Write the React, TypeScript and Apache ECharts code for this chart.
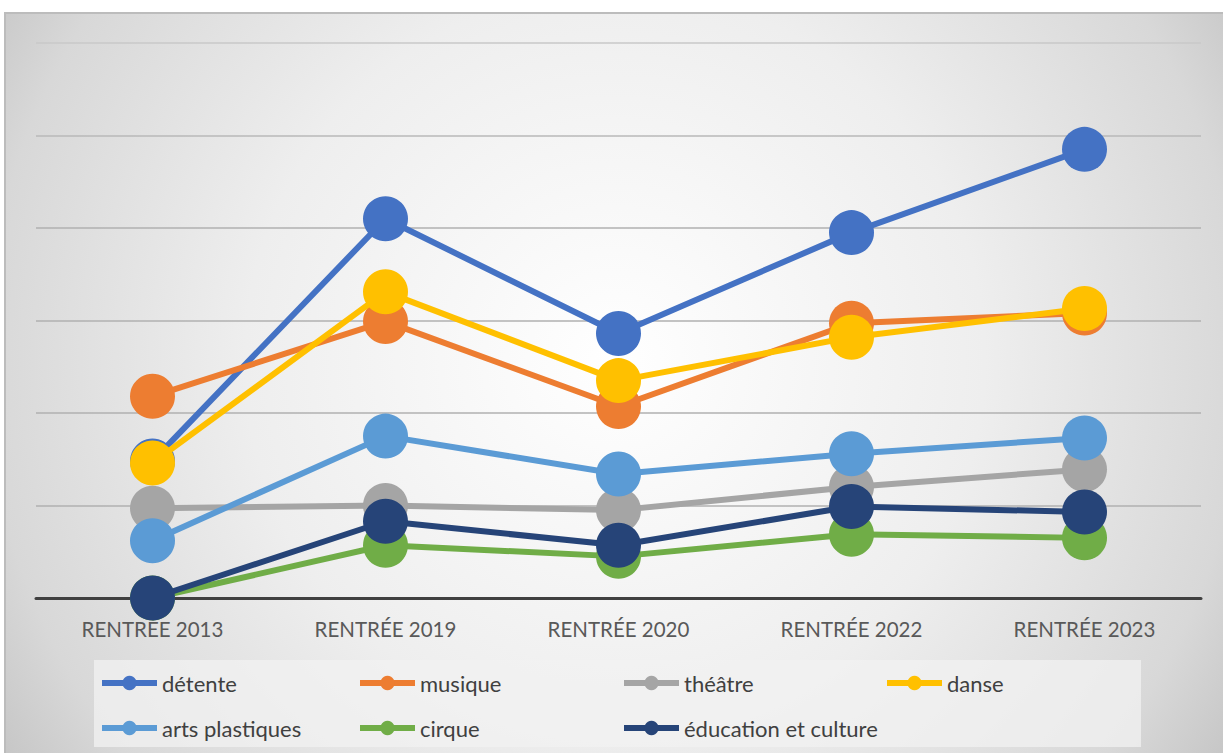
import React, { useEffect, useRef } from "react";
import * as echarts from "echarts";

const categories = ["RENTRÉE 2013", "RENTRÉE 2019", "RENTRÉE 2020", "RENTRÉE 2022", "RENTRÉE 2023"];
const seriesNames = ["détente", "musique", "théâtre", "danse", "arts plastiques", "cirque", "éducation et culture"];
const seriesColors = ["#4472C4", "#ED7D31", "#A5A5A5", "#FFC000", "#5B9BD5", "#70AD47", "#264478"];
const detente = [1.48, 4.1, 2.86, 3.95, 4.85];
const musique = [2.18, 2.99, 2.07, 2.97, 3.08];
const theatre = [0.97, 1.0, 0.95, 1.2, 1.39];
const danse = [1.46, 3.31, 2.35, 2.82, 3.13];
const artsPlastiques = [0.62, 1.75, 1.34, 1.56, 1.73];
const cirque = [0, 0.57, 0.45, 0.69, 0.65];
const education = [0, 0.83, 0.57, 0.99, 0.93];
const seriesValues = [detente, musique, theatre, danse, artsPlastiques, cirque, education];

const legendPos: [number, number][] = [
  [99, 672], [357, 672], [621, 672], [884, 672],
  [99, 717], [357, 717], [621, 717],
];

export default function App() {
  const ref = useRef<HTMLDivElement>(null);
  useEffect(() => {
    if (!ref.current) return;
    const chart = echarts.init(ref.current, undefined, { renderer: "svg" });
    const font = "Lato";
    chart.setOption({
      animation: false,
      textStyle: { fontFamily: font },
      graphic: [
        {
          type: "rect",
          z: -10,
          silent: true,
          shape: { x: 5, y: 13, width: 1240, height: 760 },
          style: {
            fill: new echarts.graphic.RadialGradient(615, 360, 740, [
              { offset: 0, color: "#ffffff" },
              { offset: 0.5, color: "#eeeeee" },
              { offset: 0.85, color: "#d8d8d8" },
              { offset: 1, color: "#c4c4c4" },
            ], true),
            stroke: "#bcbcbc",
            lineWidth: 2,
          },
        },
        {
          type: "rect",
          z: -5,
          silent: true,
          shape: { x: 94, y: 660, width: 1047, height: 87 },
          style: { fill: "rgba(242,242,242,0.75)" },
        },
      ],
      grid: { left: 36, right: 22, top: 43, bottom: 155 },
      xAxis: {
        type: "category",
        data: categories,
        boundaryGap: true,
        axisLine: { lineStyle: { color: "#404040", width: 3 } },
        axisTick: { show: false },
        axisLabel: { color: "#595959", fontSize: 20.5, margin: 20, fontFamily: font },
        z: 1,
      },
      yAxis: {
        type: "value",
        min: 0,
        max: 6,
        interval: 1,
        axisLine: { show: false },
        axisTick: { show: false },
        axisLabel: { show: false },
        splitLine: {
          showMaxLine: true,
          lineStyle: {
            color: ["#b0b0b0", "#b0b0b0", "#b0b0b0", "#b0b0b0", "#b0b0b0", "#b8b8b8", "#c9c9c9"],
            width: 1.5,
          },
        },
      },
      legend: seriesNames.map((n, i) => ({
        data: [n],
        left: legendPos[i][0],
        top: legendPos[i][1],
        itemWidth: 55,
        itemHeight: 18,
        padding: 0,
        lineStyle: { width: 6 },
        textStyle: { color: "#404040", fontSize: 22, fontFamily: font },
        selectedMode: false,
      })),
      series: seriesNames.map((n, i) => ({
        name: n,
        type: "line",
        data: seriesValues[i],
        color: seriesColors[i],
        symbol: "circle",
        symbolSize: 45,
        showAllSymbol: true,
        lineStyle: { width: 6, color: seriesColors[i] },
        itemStyle: { color: seriesColors[i], borderWidth: 0 },
        z: 3 + i,
      })),
    });
    return () => chart.dispose();
  }, []);
  return (
    <div
      ref={ref}
      style={{ position: "fixed", left: 0, top: 0, width: 1223, height: 753, background: "#ffffff" }}
    />
  );
}
